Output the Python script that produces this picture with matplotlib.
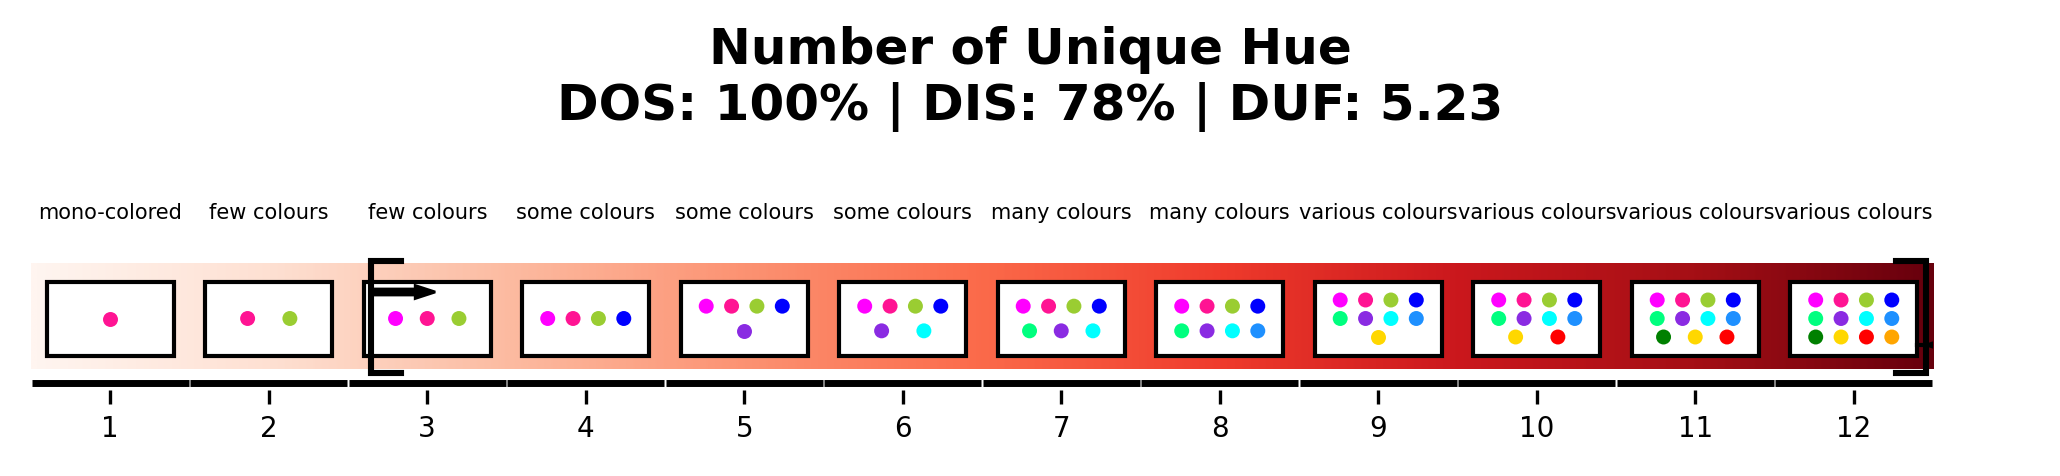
import matplotlib
matplotlib.use("Agg")
import matplotlib.pyplot as plt
import matplotlib.patches as mpatches
import numpy as np

OUTPUT_FILE = "out.png"

# ── Chart data ────────────────────────────────────────────────────────────────
DOS = 100
DIS = 78
DUF = 5.23

CATEGORIES = [1, 2, 3, 4, 5, 6, 7, 8, 9, 10, 11, 12]
LABELS = [
    "mono-colored", "few colours", "few colours", "some colours",
    "some colours", "some colours", "many colours", "many colours",
    "various colours", "various colours", "various colours", "various colours",
]

# hues shown in each box, one list per row of dots
HUE_ROWS = [
    [["deeppink"]],
    [["deeppink", "yellowgreen"]],
    [["magenta", "deeppink", "yellowgreen"]],
    [["magenta", "deeppink", "yellowgreen", "blue"]],
    [["magenta", "deeppink", "yellowgreen", "blue"],
     ["blueviolet"]],
    [["magenta", "deeppink", "yellowgreen", "blue"],
     ["blueviolet", "cyan"]],
    [["magenta", "deeppink", "yellowgreen", "blue"],
     ["springgreen", "blueviolet", "cyan"]],
    [["magenta", "deeppink", "yellowgreen", "blue"],
     ["springgreen", "blueviolet", "cyan", "dodgerblue"]],
    [["magenta", "deeppink", "yellowgreen", "blue"],
     ["springgreen", "blueviolet", "cyan", "dodgerblue"],
     ["gold"]],
    [["magenta", "deeppink", "yellowgreen", "blue"],
     ["springgreen", "blueviolet", "cyan", "dodgerblue"],
     ["gold", "red"]],
    [["magenta", "deeppink", "yellowgreen", "blue"],
     ["springgreen", "blueviolet", "cyan", "dodgerblue"],
     ["green", "gold", "red"]],
    [["magenta", "deeppink", "yellowgreen", "blue"],
     ["springgreen", "blueviolet", "cyan", "dodgerblue"],
     ["green", "gold", "red", "orange"]],
]

# observed range markers (left / right bracket)
RANGE_LEFT = 2.645
RANGE_RIGHT = 12.457

# ── Layout parameters (y in axis units, 1 unit = 100 px) ─────────────────────
BAND_BOTTOM, BAND_TOP = 0.21, 1.27
BOX_W, BOX_H, BOX_CY = 0.80, 0.74, 0.715
LABEL_Y = 1.77
SPINE_Y = 0.07
BRACKET_BOTTOM, BRACKET_TOP = 0.175, 1.29
BRACKET_ARM = 0.19

# ── Figure ────────────────────────────────────────────────────────────────────
fig = plt.figure(figsize=(10.3, 2.38), dpi=200)
ax = fig.add_axes([31 / 2060, 86 / 476, 1902 / 2060, 200 / 476])
ax.set_xlim(0.5, 12.5)
ax.set_ylim(0, 2)

n = len(CATEGORIES)
for i, c in enumerate(CATEGORIES):
    # gradient band, one segment per category
    grad = np.linspace(i / n, (i + 1) / n, 64).reshape(1, -1)
    ax.imshow(grad, cmap="Reds", vmin=0, vmax=1, aspect="auto",
              extent=(c - 0.5, c + 0.5, BAND_BOTTOM, BAND_TOP),
              interpolation="bilinear", zorder=1)

    # segmented baseline
    ax.plot([c - 0.494, c + 0.494], [SPINE_Y, SPINE_Y], color="black",
            lw=2.5, solid_capstyle="butt", clip_on=False, zorder=2)

    # white box
    ax.add_patch(mpatches.Rectangle(
        (c - BOX_W / 2, BOX_CY - BOX_H / 2), BOX_W, BOX_H,
        facecolor="white", edgecolor="black", lw=1.5, zorder=3))

    # dots, spread evenly inside the box
    rows = HUE_ROWS[i]
    top = BOX_CY + BOX_H / 2
    for j, row in enumerate(rows):
        y = top - (j + 1) * BOX_H / (len(rows) + 1)
        xs = [c - BOX_W / 2 + (k + 1) * BOX_W / (len(row) + 1) for k in range(len(row))]
        ax.scatter(xs, [y] * len(row), s=29, c=row, linewidths=0, zorder=4)

    ax.text(c, LABEL_Y, LABELS[i], ha="center", va="center", fontsize=7.5,
            clip_on=False)

# ── Range brackets ────────────────────────────────────────────────────────────
ax.plot([RANGE_LEFT + BRACKET_ARM, RANGE_LEFT, RANGE_LEFT, RANGE_LEFT + BRACKET_ARM],
        [BRACKET_TOP, BRACKET_TOP, BRACKET_BOTTOM, BRACKET_BOTTOM],
        color="black", lw=2.2, solid_joinstyle="miter", zorder=5, clip_on=False)
ax.plot([RANGE_RIGHT - BRACKET_ARM, RANGE_RIGHT, RANGE_RIGHT, RANGE_RIGHT - BRACKET_ARM],
        [BRACKET_TOP, BRACKET_TOP, BRACKET_BOTTOM, BRACKET_BOTTOM],
        color="black", lw=2.2, solid_joinstyle="miter", zorder=5, clip_on=False)

ax.arrow(RANGE_LEFT, 0.98, 0.405, 0, width=0.06, head_width=0.13,
         head_length=0.126, length_includes_head=True, color="black", zorder=5)
ax.plot([BOX_W / 2 + 12, RANGE_RIGHT], [0.45, 0.45], color="black", lw=1.5, zorder=5)
ax.arrow(RANGE_RIGHT + 0.17, 0.45, -0.17, 0, width=0.02, head_width=0.13,
         head_length=0.126, length_includes_head=True, color="black", zorder=5)

# ── Axis styling ──────────────────────────────────────────────────────────────
ax.set_xticks(CATEGORIES)
ax.set_xticklabels([str(c) for c in CATEGORIES])
ax.set_yticks([])
ax.tick_params(axis="x", length=5, width=1.2, labelsize=10, pad=4)
for s in ax.spines.values():
    s.set_visible(False)

fig.text(0.5, 1 - 79 / 476,
         f"Number of Unique Hue\nDOS: {DOS}% | DIS: {DIS}% | DUF: {DUF}",
         ha="center", va="center", fontsize=18, fontweight="bold")

fig.savefig(OUTPUT_FILE, dpi=200)
plt.close()
